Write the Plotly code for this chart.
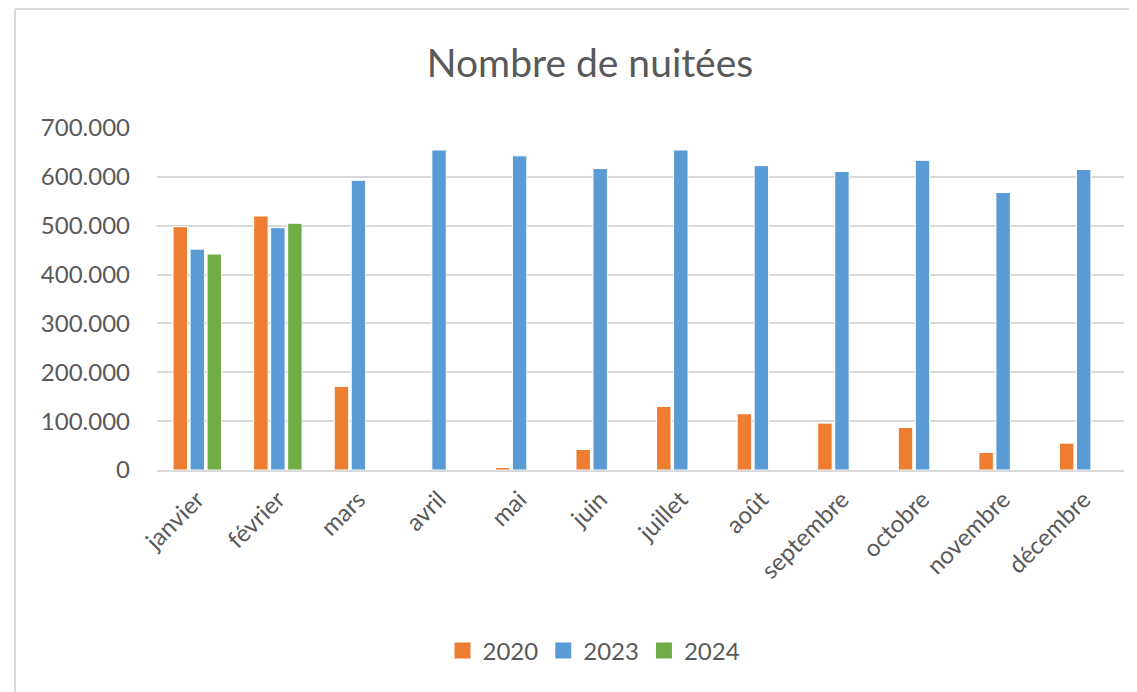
import plotly.graph_objects as go

months = ["janvier", "février", "mars", "avril", "mai", "juin", "juillet",
          "août", "septembre", "octobre", "novembre", "décembre"]
v2020 = [498000, 520000, 171000, 0, 5000, 42000, 130000, 115000, 96000, 87000, 36000, 55000]
v2023 = [452000, 496000, 593000, 655000, 643000, 617000, 655000, 623000, 611000, 634000, 568000, 615000]
v2024 = [442000, 505000, None, None, None, None, None, None, None, None, None, None]
series_names = ["2020", "2023", "2024"]
colors = ["#ED7D31", "#5B9BD5", "#70AD47"]

OFF = 8  # page body margin
W, H = 1137 - OFF, 692 - OFF
L, R, T, B = 157 - OFF, 1124 - OFF, 128 - OFF, 470 - OFF  # plot area in figure pixels
FONT = "Lato"
TXT = "#595959"
GRID = "#D9D9D9"

fig = go.Figure()
for name, vals, col in zip(series_names, [v2020, v2023, v2024], colors):
    fig.add_trace(go.Bar(
        x=months, y=vals, name=name, showlegend=False,
        marker=dict(color=col, line=dict(color="white", width=1)),
    ))
    fig.add_trace(go.Scatter(
        x=[None], y=[None], name=name, mode="markers",
        marker=dict(symbol="square", size=16, color=col),
    ))

def px_x(p):
    return (p - OFF - L) / (R - L)

def px_y(p):
    return (B - (p - OFF)) / (B - T)

fig.update_layout(
    width=W, height=H,
    margin=dict(l=L, r=W - R, t=T, b=H - B, autoexpand=False),
    paper_bgcolor="white", plot_bgcolor="white",
    separators=",.",
    barmode="group", bargap=0.367, bargroupgap=0.15,
    font=dict(family=FONT, color=TXT, size=24),
    title=dict(text="Nombre de nuitées", x=(590 - OFF) / W, xref="container", xanchor="center",
               y=1 - (63 - OFF) / H, yref="container", yanchor="middle",
               font=dict(family=FONT, size=39, color=TXT)),
    legend=dict(orientation="h", xref="container", yref="container",
                x=(594 - OFF) / W, xanchor="center", y=1 - (651 - OFF) / H, yanchor="middle",
                font=dict(family=FONT, size=24, color=TXT), bgcolor="rgba(0,0,0,0)"),
    xaxis=dict(showgrid=False, showline=True, linecolor=GRID, linewidth=2,
               tickangle=-45, ticks="", tickfont=dict(family=FONT, size=24, color=TXT),
               ticklabelstandoff=4),
    yaxis=dict(range=[0, 700000], tickvals=[0, 100000, 200000, 300000, 400000, 500000, 600000, 700000],
               tickformat=",d", showgrid=True, gridcolor=GRID, gridwidth=2,
               zeroline=False, showline=False, ticks="",
               tickfont=dict(family=FONT, size=24, color=TXT), ticklabelstandoff=26),
    shapes=[
        dict(type="line", xref="paper", yref="paper", x0=px_x(15), x1=px_x(1160),
             y0=px_y(9), y1=px_y(9), line=dict(color=GRID, width=2)),
        dict(type="line", xref="paper", yref="paper", x0=px_x(15), x1=px_x(15),
             y0=px_y(9), y1=px_y(720), line=dict(color=GRID, width=2)),
    ],
)

fig.write_html("out.html")
